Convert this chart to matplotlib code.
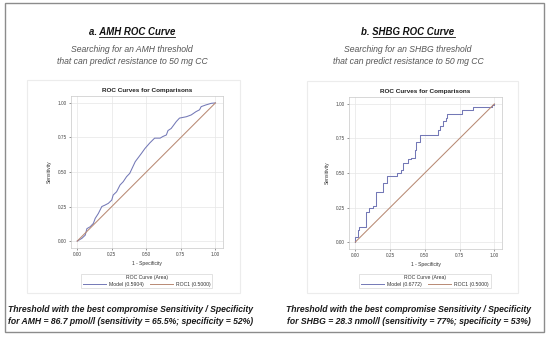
import numpy as np
import matplotlib.pyplot as plt
from matplotlib.lines import Line2D
from matplotlib.patches import Rectangle

plt.rcParams['font.family'] = ['Liberation Sans', 'DejaVu Sans']

# -----------------------------
# data
# -----------------------------
amh_fpr = [0.0, 0.034, 0.058, 0.07, 0.094, 0.117, 0.13, 0.153, 0.178, 0.20, 0.225, 0.25,
           0.26, 0.285, 0.31, 0.333, 0.357, 0.38, 0.42, 0.465, 0.49, 0.525, 0.56, 0.60,
           0.62, 0.645, 0.657, 0.68, 0.717, 0.74, 0.79, 0.825, 0.86, 0.885, 0.897, 0.93,
           0.97, 1.0]
amh_tpr = [0.0, 0.02, 0.043, 0.09, 0.104, 0.128, 0.164, 0.20, 0.25, 0.26, 0.273, 0.297,
           0.333, 0.357, 0.406, 0.43, 0.466, 0.49, 0.575, 0.635, 0.67, 0.71, 0.745, 0.745,
           0.757, 0.768, 0.80, 0.815, 0.865, 0.89, 0.90, 0.913, 0.937, 0.95, 0.973, 0.985,
           0.997, 1.0]

# step corners (steps-post)
shbg_fpr = [0.0, 0.0, 0.02, 0.03, 0.08, 0.10, 0.13, 0.15, 0.20, 0.225, 0.30, 0.33,
            0.345, 0.38, 0.40, 0.43, 0.44, 0.465, 0.595, 0.61, 0.63, 0.655, 0.66,
            0.765, 0.85, 0.98, 1.0]
shbg_tpr = [0.0, 0.04, 0.09, 0.11, 0.22, 0.245, 0.26, 0.36, 0.425, 0.48, 0.50, 0.52,
            0.57, 0.60, 0.61, 0.665, 0.725, 0.775, 0.81, 0.84, 0.875, 0.895, 0.93,
            0.955, 0.98, 0.99, 1.0]

auc_values = ["0.5904", "0.6772"]
ref_auc = "0.5000"

ticks = [0.0, 0.25, 0.5, 0.75, 1.0]
tick_labels = ["0.00", "0.25", "0.50", "0.75", "1.00"]

title_prefix = ["a. ", "b. "]
title_main = ["AMH ROC Curve", "SHBG ROC Curve"]
subtitles = [["Searching for an AMH threshold", "that can predict resistance to 50 mg CC"],
             ["Searching for an SHBG threshold", "that can predict resistance to 50 mg CC"]]
footers = [["Threshold with the best compromise Sensitivity / Specificity",
            "for AMH = 86.7 pmol/l (sensitivity = 65.5%; specificity = 52%)"],
           ["Threshold with the best compromise Sensitivity / Specificity",
            "for SHBG = 28.3 nmol/l (sensitivity = 77%; specificity = 53%)"]]

# -----------------------------
# layout (pixels of a 550x339 image)
# -----------------------------
W, H = 550, 339
def fx(px):
    return px / W
def fy(py):
    return 1 - py / H

fig = plt.figure(figsize=(5.5, 3.39), dpi=100)
fig.patch.set_facecolor('white')

# outer frame
fig.patches.append(Rectangle((fx(5), fy(332)), fx(539), (332 - 3) / H, transform=fig.transFigure,
                             fill=False, edgecolor='#8c8c8c', linewidth=1.0))

centers = [132, 408]
axes_px = [(71, 96, 223, 248), (349, 97, 502, 249)]
boxes_px = [(27, 80, 240, 293), (307, 81, 518, 293)]
curve_col = '#7378b6'
ref_col = '#b88a74'

renderer = fig.canvas.get_renderer()

for i in range(2):
    cx = centers[i]

    # light frame round the inner picture
    bx0, by0, bx1, by1 = boxes_px[i]
    fig.patches.append(Rectangle((fx(bx0), fy(by1)), (bx1 - bx0) / W, (by1 - by0) / H,
                                 transform=fig.transFigure, fill=False,
                                 edgecolor='#ececec', linewidth=0.8))

    # title with underline on the main part
    t = fig.text(fx(cx), fy(32), title_prefix[i] + title_main[i], ha='center', va='center',
                 fontsize=6.9, fontweight='bold', fontstyle='italic', color='#111111')
    p = fig.text(0, 0, title_prefix[i], fontsize=6.9, fontweight='bold', fontstyle='italic')
    bb = t.get_window_extent(renderer)
    pw = p.get_window_extent(renderer).width
    p.remove()
    fig.add_artist(Line2D([fx(bb.x0 + pw), fx(bb.x1)], [bb.y0 / H + 0.001] * 2,
                          transform=fig.transFigure, color='#111111', linewidth=0.6))

    for k, line in enumerate(subtitles[i]):
        fig.text(fx(cx), fy(49 + 12 * k), line, ha='center', va='center', fontsize=6.2,
                 fontstyle='italic', color='#555555')

    for k, line in enumerate(footers[i]):
        fig.text(fx(cx - 1 + 2 * i), fy(310 + 11 * k), line, ha='center', va='center',
                 fontsize=6.2, fontweight='bold', fontstyle='italic', color='#1a1a1a')

    # ROC axes
    x0, y0, x1, y1 = axes_px[i]
    ax = fig.add_axes([fx(x0), fy(y1), (x1 - x0) / W, (y1 - y0) / H])
    if i == 0:
        ax.plot(amh_fpr, amh_tpr, color=curve_col, linewidth=0.75)
    else:
        ax.plot(shbg_fpr, shbg_tpr, color=curve_col, linewidth=0.75, drawstyle='steps-post')
    ax.plot([0, 1], [0, 1], color=ref_col, linewidth=0.75)
    ax.set_xlim(-0.045, 1.055)
    ax.set_ylim(-0.05, 1.05)
    ax.set_xticks(ticks)
    ax.set_yticks(ticks)
    ax.set_xticklabels(tick_labels)
    ax.set_yticklabels(tick_labels)
    ax.tick_params(labelsize=3.4, colors='#444444', length=1.5, width=0.4, pad=1.5)
    ax.grid(True, color='#e6e6e6', linewidth=0.5)
    ax.set_axisbelow(True)
    for s in ax.spines.values():
        s.set_color('#c8c8c8')
        s.set_linewidth(0.5)
    ax.set_title("ROC Curves for Comparisons", fontsize=4.6, fontweight='bold',
                 color='#222222', pad=3)
    ax.set_xlabel("1 - Specificity", fontsize=3.6, color='#333333', labelpad=2.5)
    ax.set_ylabel("Sensitivity", fontsize=3.6, color='#333333', labelpad=4)

    handles = [Line2D([], [], color=curve_col, linewidth=0.7),
               Line2D([], [], color=ref_col, linewidth=0.7)]
    labels = ["Model (%s)" % auc_values[i], "ROC1 (%s)" % ref_auc]
    leg = fig.legend(handles, labels, title="ROC Curve (Area)", ncol=2,
                     loc='center', bbox_to_anchor=(fx((x0 + x1) / 2 - 0.5), fy(281)),
                     fontsize=3.7, title_fontsize=3.7, fancybox=False, frameon=True,
                     edgecolor='#cccccc', handlelength=4.5, handletextpad=0.6,
                     columnspacing=1.2, borderpad=0.3, labelspacing=0.2)
    leg.get_frame().set_linewidth(0.5)
    leg.get_title().set_color('#333333')
    for txt in leg.get_texts():
        txt.set_color('#333333')

fig.savefig('out.png', dpi=100, facecolor='white')
